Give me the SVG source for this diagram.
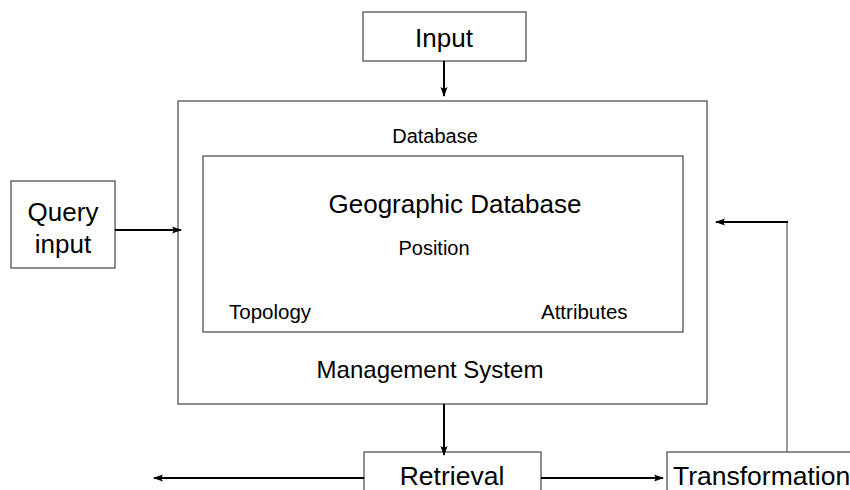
<svg xmlns="http://www.w3.org/2000/svg" width="850" height="490" viewBox="0 0 850 490">
<style>
.box{fill:#fff;stroke:#444;stroke-width:1.2}
.t{font-family:"Liberation Sans",Arial,sans-serif;fill:#000}
.arr{stroke:#000;stroke-width:2;fill:none;marker-end:url(#ah)}
.thin{stroke:#666;stroke-width:1.3;fill:none}
</style>
<defs>
<marker id="ah" markerWidth="10" markerHeight="8" refX="9" refY="4" orient="auto" markerUnits="userSpaceOnUse">
<path d="M0,0.5 L10,4 L0,7.5 L2,4 z" fill="#000"/>
</marker>
</defs>
<rect width="850" height="490" fill="#fff"/>
<g id="input"><rect class="box" x="363" y="12" width="163" height="49"/><text class="t" x="444" y="47" font-size="26" text-anchor="middle">Input</text></g>
<g id="dbms"><rect class="box" x="178" y="101" width="529" height="303"/>
<text class="t" x="435" y="143" font-size="20" text-anchor="middle">Database</text>
<text class="t" x="430" y="378" font-size="24" text-anchor="middle">Management System</text></g>
<g id="geodb"><rect class="box" x="203" y="156" width="480" height="176"/>
<text class="t" x="455" y="213" font-size="26" text-anchor="middle">Geographic Database</text>
<text class="t" x="434" y="255" font-size="20" text-anchor="middle">Position</text>
<text class="t" x="229" y="319" font-size="20.5">Topology</text>
<text class="t" x="541" y="319" font-size="20.5">Attributes</text></g>
<g id="query"><rect class="box" x="11" y="181" width="104" height="87"/>
<text class="t" x="63" y="221" font-size="26" text-anchor="middle">Query</text>
<text class="t" x="63" y="253" font-size="26" text-anchor="middle">input</text></g>
<g id="retrieval"><rect class="box" x="364" y="452" width="177" height="50"/>
<text class="t" x="452" y="485" font-size="26.5" text-anchor="middle">Retrieval</text></g>
<g id="transformation"><rect class="box" x="667" y="452" width="200" height="50"/>
<text class="t" x="673" y="485" font-size="26.5">Transformation</text></g>
<g id="connectors">
<line class="arr" x1="444" y1="61" x2="444" y2="96"/>
<line class="arr" x1="115" y1="230" x2="181" y2="230"/>
<line class="arr" x1="444" y1="404" x2="444" y2="455"/>
<line class="arr" x1="364" y1="478" x2="154" y2="478"/>
<line class="arr" x1="541" y1="478" x2="663" y2="478"/>
<polyline class="thin" points="787,452 787,222"/>
<line class="arr" x1="788" y1="222" x2="716" y2="222"/>
</g>
</svg>
